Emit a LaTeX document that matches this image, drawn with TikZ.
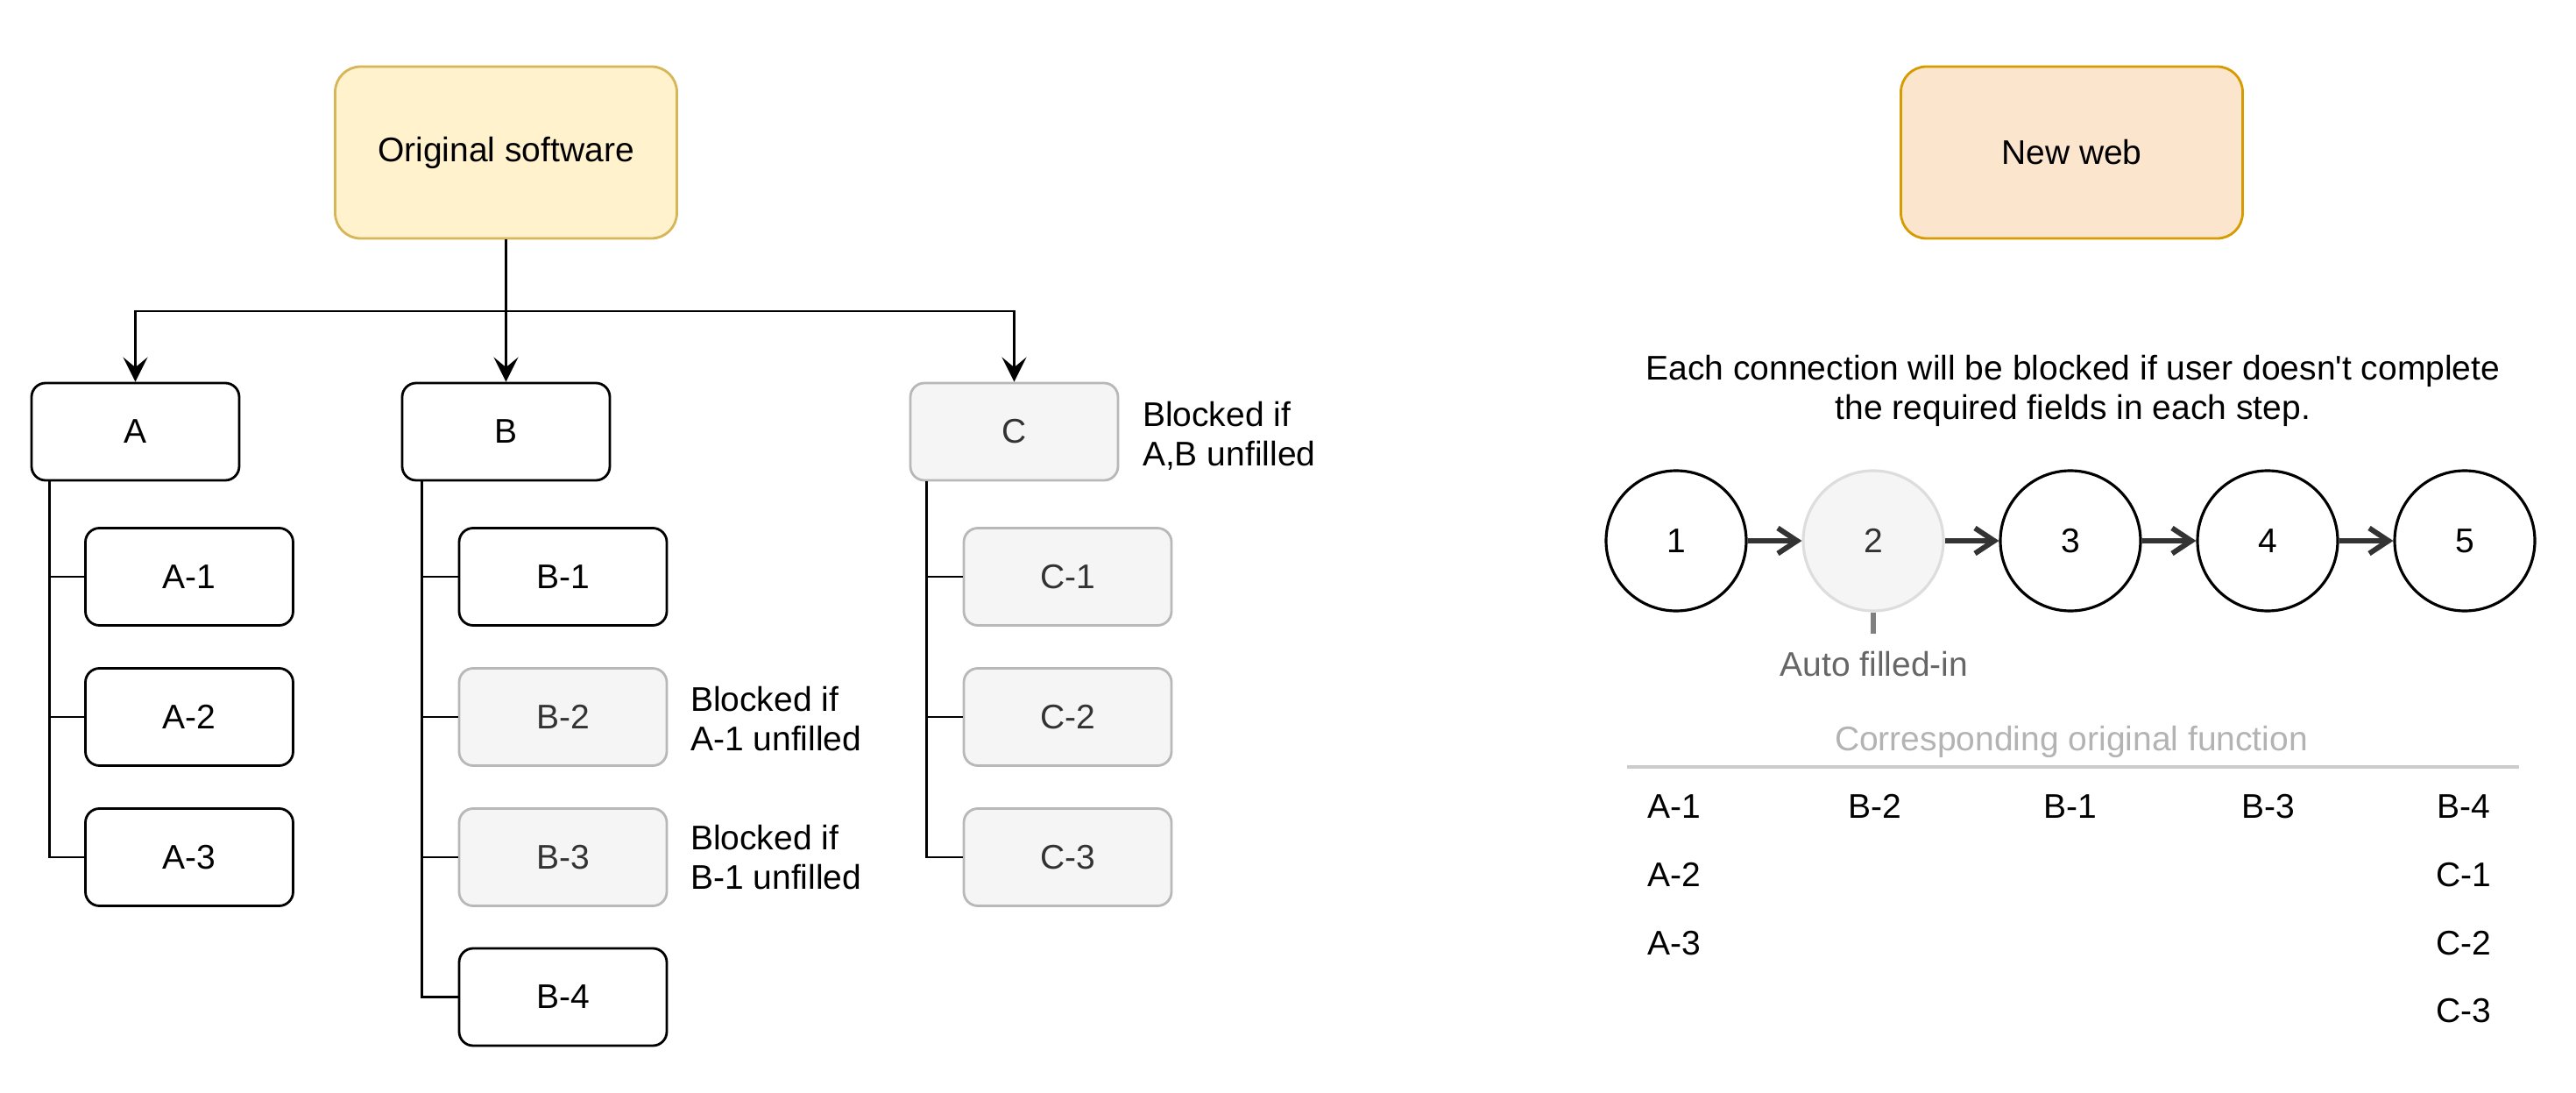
\documentclass[tikz,border=0pt]{standalone}
\usepackage{fontspec}
\setmainfont{Liberation Sans}[Ligatures=TeXOff]
\usetikzlibrary{arrows.meta,positioning}
\definecolor{origfill}{HTML}{FFF2CC}
\definecolor{origdraw}{HTML}{D6B656}
\definecolor{webfill}{HTML}{FBE5CD}
\definecolor{webdraw}{HTML}{D79B00}
\definecolor{greyfill}{HTML}{F5F5F5}
\definecolor{greydraw}{HTML}{B8B8B8}
\definecolor{darktext}{HTML}{333333}
\definecolor{circlegrey}{HTML}{DDDDDD}
\definecolor{tickgrey}{HTML}{808080}
\definecolor{autotext}{HTML}{666666}
\definecolor{corrtext}{HTML}{B3B3B3}
\definecolor{corrline}{HTML}{CCCCCC}
\definecolor{steparrowc}{HTML}{333333}
\begin{document}
\begin{tikzpicture}[
  font=\fontsize{11.1}{12.8}\selectfont,
  box/.style={rectangle, rounded corners=0.16cm, draw=black, line width=0.8pt, fill=white,
              minimum width=2.37cm, minimum height=1.11cm, inner sep=0pt},
  greybox/.style={box, draw=greydraw, fill=greyfill, text=darktext},
  bigbox/.style={rectangle, rounded corners=0.29cm, line width=0.8pt,
              minimum width=3.9cm, minimum height=1.96cm, inner sep=0pt},
  tree/.style={draw=black, line width=0.8pt},
  treearrow/.style={tree, -{Stealth[length=8pt,width=8pt,inset=3.3pt]}},
  stepnode/.style={circle, draw=black, line width=0.9pt, fill=white, minimum size=1.6cm, inner sep=0pt},
  steparrow/.style={draw=steparrowc, line width=1.7pt, -{Straight Barb[length=2.2mm,width=2.9mm]}},
  note/.style={align=left, inner sep=0pt, anchor=west},
  cell/.style={inner sep=0pt}
]
\useasboundingbox (0,0) rectangle (29.4,-12.47);

% ---------- left: original software ----------
\node[bigbox, draw=origdraw, fill=origfill] (orig) at (5.775,-1.74) {Original software};

\node[box] (A) at (1.545,-4.925) {A};
\node[box] (B) at (5.775,-4.925) {B};
\node[greybox] (C) at (11.575,-4.925) {C};

\coordinate (split) at (5.775,-3.55);
\draw[treearrow] (orig.south) -- (B.north);
\draw[treearrow] (split) -| (A.north);
\draw[treearrow] (split) -| (C.north);

\node[box] (A1) at (2.16,-6.58) {A-1};
\node[box] (A2) at (2.16,-8.18) {A-2};
\node[box] (A3) at (2.16,-9.78) {A-3};

\node[box] (B1) at (6.425,-6.58) {B-1};
\node[greybox] (B2) at (6.425,-8.18) {B-2};
\node[greybox] (B3) at (6.425,-9.78) {B-3};
\node[box] (B4) at (6.425,-11.375) {B-4};

\node[greybox] (C1) at (12.185,-6.58) {C-1};
\node[greybox] (C2) at (12.185,-8.18) {C-2};
\node[greybox] (C3) at (12.185,-9.78) {C-3};

\coordinate (Atr) at ([xshift=0.215cm]A.south west);
\coordinate (Btr) at ([xshift=0.24cm]B.south west);
\coordinate (Ctr) at ([xshift=0.20cm]C.south west);
\draw[tree] (Atr) |- (A3.west);
\draw[tree] (Atr) |- (A1.west);
\draw[tree] (Atr) |- (A2.west);
\draw[tree] (Btr) |- (B4.west);
\draw[tree] (Btr) |- (B1.west);
\draw[tree] (Btr) |- (B2.west);
\draw[tree] (Btr) |- (B3.west);
\draw[tree] (Ctr) |- (C3.west);
\draw[tree] (Ctr) |- (C1.west);
\draw[tree] (Ctr) |- (C2.west);

\node[note] (nC) at ([xshift=0.26cm,yshift=-0.05cm]C.east) {Blocked if\\A,B unfilled};
\node[note] (nB2) at ([xshift=0.25cm,yshift=-0.02cm]B2.east) {Blocked if\\A-1 unfilled};
\node[note] (nB3) at ([xshift=0.25cm]B3.east) {Blocked if\\B-1 unfilled};

% ---------- right: new web ----------
\node[bigbox, draw=webdraw, fill=webfill] (web) at (23.645,-1.74) {New web};

\node[align=center, inner sep=0pt] (desc) at (23.66,-4.455)
  {Each connection will be blocked if user doesn't complete\\the required fields in each step.};

\node[stepnode] (s1) at (19.13,-6.17) {1};
\node[stepnode, draw=circlegrey, fill=greyfill, text=darktext] (s2) at (21.38,-6.17) {2};
\node[stepnode] (s3) at (23.63,-6.17) {3};
\node[stepnode] (s4) at (25.88,-6.17) {4};
\node[stepnode] (s5) at (28.13,-6.17) {5};

\draw[steparrow] (s1) -- (s2);
\draw[steparrow] (s2) -- (s3);
\draw[steparrow] (s3) -- (s4);
\draw[steparrow] (s4) -- (s5);

\coordinate (tickend) at (21.38,-7.23);
\draw[draw=tickgrey, line width=1.5pt] (s2.south) -- (tickend);
\node[text=autotext, inner sep=0pt] (auto) at (21.39,-7.58) {Auto filled-in};

\node[text=corrtext, inner sep=0pt] (corr) at (23.64,-8.46) {Corresponding original function};
\coordinate (lineL) at (18.57,-8.75);
\coordinate (lineR) at (28.75,-8.75);
\draw[draw=corrline, line width=1pt] (lineL) -- (lineR);

\node[cell] (tA1) at (19.11,-9.20) {A-1};
\node[cell] (tA2) at (19.11,-9.98) {A-2};
\node[cell] (tA3) at (19.11,-10.76) {A-3};
\node[cell] (tB2) at (21.40,-9.20) {B-2};
\node[cell] (tB1) at (23.63,-9.20) {B-1};
\node[cell] (tB3) at (25.89,-9.20) {B-3};
\node[cell] (tB4) at (28.12,-9.20) {B-4};
\node[cell] (tC1) at (28.12,-9.98) {C-1};
\node[cell] (tC2) at (28.12,-10.76) {C-2};
\node[cell] (tC3) at (28.12,-11.53) {C-3};
\end{tikzpicture}
\end{document}
